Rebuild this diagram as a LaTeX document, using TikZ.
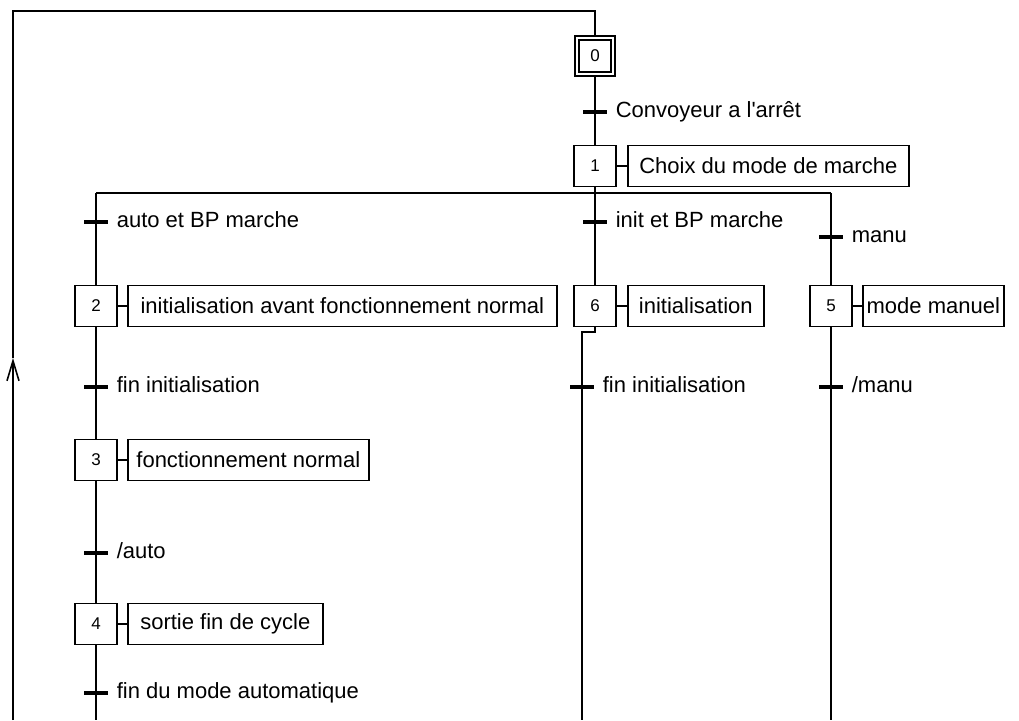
\documentclass[tikz,border=0pt]{standalone}
\usepackage{fontspec}
\setmainfont{Liberation Sans}[Ligatures=TeXOff]
\usetikzlibrary{arrows.meta}
\begin{document}
\begin{tikzpicture}[x=1pt,y=-1pt,line width=1.6pt,
  stepbox/.style={draw,minimum width=42pt,minimum height=41pt,inner sep=0pt,
    font=\fontsize{17}{17}\selectfont},
  actbox/.style={draw,anchor=west,minimum height=41pt,inner sep=0pt,
    font=\fontsize{22}{22}\selectfont},
  trbar/.style={line width=4pt},
  trlabel/.style={anchor=west,inner sep=0pt,font=\fontsize{22}{22}\selectfont,
    text height=16pt,text depth=5pt}
]
\useasboundingbox (0,0) rectangle (1019,720);

% initial step 0 (double frame)
\node[stepbox,minimum width=40pt,minimum height=40pt] (s0) at (595,56) {0};
\node[draw,minimum width=32pt,minimum height=32pt,inner sep=0pt] (s0i) at (s0.center) {};

% step 1 and its action
\node[stepbox] (s1) at (595,166) {1};
\node[actbox,minimum width=281pt] (a1) at (627,166) {Choix du mode de marche};
\draw (s1.east) -- (a1.west);

% transition 0 -> 1
\coordinate (t0) at (595,112);
\draw (s0.south) -- (s1.north);
\draw[trbar] ([xshift=-12pt]t0) -- ([xshift=12pt]t0);
\node[trlabel] (l0) at ([xshift=20pt]t0) {Convoyeur a l'arrêt};

% selection divergence
\coordinate (dl) at (96,193);
\coordinate (dm) at (595,193);
\coordinate (dr) at (831,193);
\draw (s1.south) -- (dm);
\draw (dl) -- (dr);

% steps of the three branches
\node[stepbox] (s2) at (96,306) {2};
\node[actbox,minimum width=429pt] (a2) at (127,306) {initialisation avant fonctionnement normal};
\node[stepbox] (s6) at (595,306) {6};
\node[actbox,minimum width=136pt] (a6) at (627,306) {initialisation};
\node[stepbox] (s5) at (831,306) {5};
\node[actbox,minimum width=141pt] (a5) at (862,306) {mode manuel};
\node[stepbox] (s3) at (96,460) {3};
\node[actbox,minimum width=241pt] (a3) at (127,460) {fonctionnement normal};
\node[stepbox] (s4) at (96,624) {4};
\node[actbox,minimum width=195pt] (a4) at (127,624) {sortie fin de cycle};
\draw (s2.east) -- (a2.west);
\draw (s6.east) -- (a6.west);
\draw (s5.east) -- (a5.west);
\draw (s3.east) -- (a3.west);
\draw (s4.east) -- (a4.west);

% links
\draw (dl) -- (s2.north);
\draw (dm) -- (s6.north);
\draw (dr) -- (s5.north);
\draw (s2.south) -- (s3.north);
\draw (s3.south) -- (s4.north);
\coordinate (b4) at (96,720);
\draw (s4.south) -- (b4);
\coordinate (j1) at (595,332);
\coordinate (j2) at (582,332);
\coordinate (b6) at (582,720);
\draw (s6.south) -- (j1) -- (j2) -- (b6);
\coordinate (b5) at (831,720);
\draw (s5.south) -- (b5);

% transitions
\coordinate (ta) at (96,222);
\coordinate (ti) at (595,222);
\coordinate (tm) at (831,237);
\coordinate (t2) at (96,387);
\coordinate (t6) at (582,387);
\coordinate (t5) at (831,387);
\coordinate (t3) at (96,553);
\coordinate (t4) at (96,693);
\foreach \t in {ta,ti,tm,t2,t6,t5,t3,t4}
  \draw[trbar] ([xshift=-12pt]\t) -- ([xshift=12pt]\t);
\node[trlabel] (la) at ([xshift=20pt]ta) {auto et BP marche};
\node[trlabel] (li) at ([xshift=20pt]ti) {init et BP marche};
\node[trlabel] (lm) at ([xshift=20pt]tm) {manu};
\node[trlabel] (l2) at ([xshift=20pt]t2) {fin initialisation};
\node[trlabel] (l6) at ([xshift=20pt]t6) {fin initialisation};
\node[trlabel] (l5) at ([xshift=20pt]t5) {/manu};
\node[trlabel] (l3) at ([xshift=20pt]t3) {/auto};
\node[trlabel] (l4) at ([xshift=20pt]t4) {fin du mode automatique};

% return loop to step 0
\coordinate (rb) at (13,720);
\coordinate (ra) at (13,358);
\coordinate (rt) at (13,11);
\draw[-{Straight Barb[length=20pt,width=12pt]}] (rb) -- (ra);
\draw (ra) -- (rt) -| (s0.north);
\end{tikzpicture}
\end{document}
